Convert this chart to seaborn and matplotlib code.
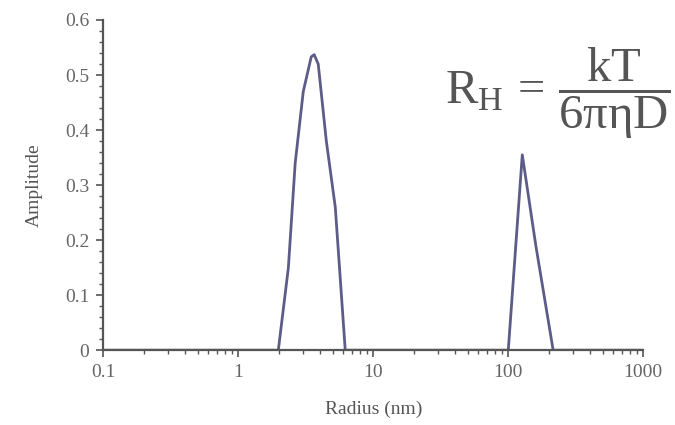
import matplotlib
matplotlib.use("Agg")
import matplotlib.pyplot as plt
import seaborn as sns
import pandas as pd
from matplotlib.ticker import FixedLocator, MultipleLocator, NullFormatter

# Size distribution (intensity amplitude vs hydrodynamic radius)
radius_nm = [0.1, 1.98, 2.35, 2.64, 3.03, 3.47, 3.65, 3.91, 4.49, 5.23, 6.2,
             100.0, 127.0, 160.0, 215.0, 1000.0]
amplitude = [0.0, 0.0, 0.15, 0.34, 0.47, 0.533, 0.537, 0.52, 0.38, 0.26, 0.0,
             0.0, 0.355, 0.19, 0.0, 0.0]

x_ticks = [0.1, 1, 10, 100, 1000]
x_tick_labels = ["0.1", "1", "10", "100", "1000"]
y_ticks = [0, 0.1, 0.2, 0.3, 0.4, 0.5, 0.6]
y_tick_labels = ["0", "0.1", "0.2", "0.3", "0.4", "0.5", "0.6"]

df = pd.DataFrame({"Radius (nm)": radius_nm, "Amplitude": amplitude})

sns.set_theme(style="ticks")
plt.rcParams["font.family"] = ["Liberation Serif", "DejaVu Serif"]
plt.rcParams["mathtext.fontset"] = "custom"
plt.rcParams["mathtext.rm"] = "Liberation Serif"
plt.rcParams["mathtext.it"] = "Liberation Serif"

fig = plt.figure(figsize=(6.75, 4.25), dpi=100)
ax = fig.add_axes([0.153, 0.176, 0.8, 0.777])

sns.lineplot(data=df, x="Radius (nm)", y="Amplitude", ax=ax,
             color="#5c5c88", linewidth=2.0, sort=False)

ax.set_xscale("log")
ax.set_xlim(0.1, 1000)
ax.set_ylim(0, 0.6)
ax.xaxis.set_major_locator(FixedLocator(x_ticks))
ax.set_xticklabels(x_tick_labels)
ax.xaxis.set_minor_formatter(NullFormatter())
ax.yaxis.set_major_locator(FixedLocator(y_ticks))
ax.set_yticklabels(y_tick_labels)
ax.yaxis.set_minor_locator(MultipleLocator(0.02))

for side in ("top", "right"):
    ax.spines[side].set_visible(False)
for side in ("left", "bottom"):
    ax.spines[side].set_color("#555555")
    ax.spines[side].set_linewidth(1.6)

ax.tick_params(axis="both", which="major", length=5, width=1.2,
               color="#555555", labelsize=14, labelcolor="#666666", pad=5)
ax.tick_params(axis="both", which="minor", length=3, width=1.0,
               color="#555555")

ax.set_xlabel("Radius (nm)", fontsize=14, color="#555555", labelpad=14)
ax.set_ylabel("Amplitude", fontsize=14, color="#555555", labelpad=16)

fig.text(0.993, 0.78,
         r"$\mathrm{R_{H}}\,=\,\dfrac{\mathrm{kT}}{\mathrm{6\pi\eta D}}$",
         fontsize=35, color="#555555", ha="right", va="center")

fig.savefig("out.png", dpi=100)
